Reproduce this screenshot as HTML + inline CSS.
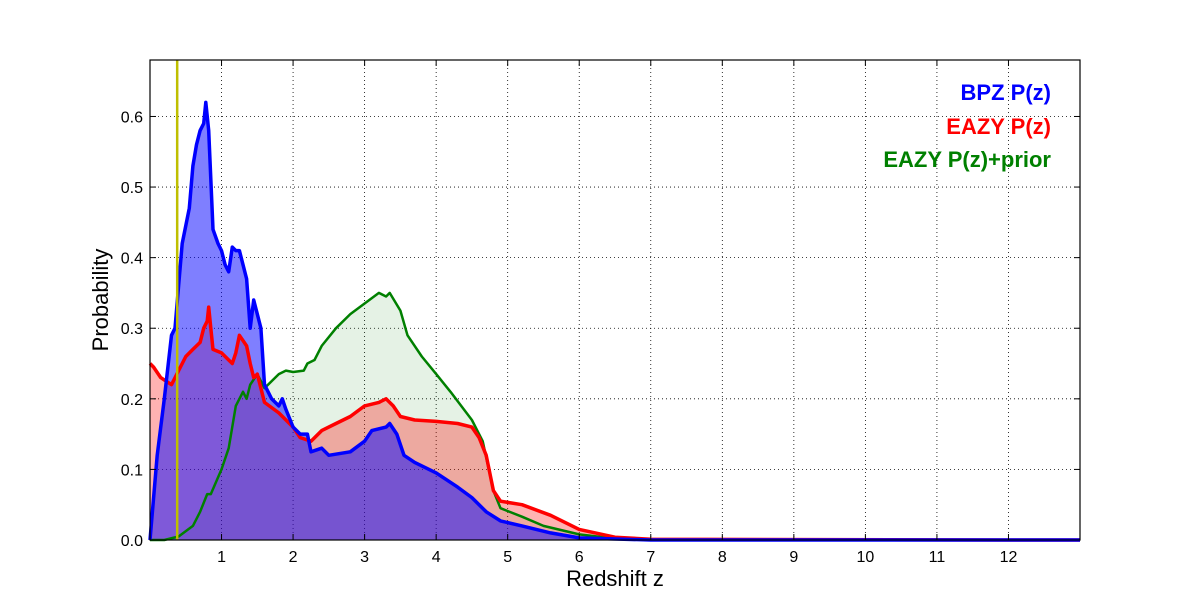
<!DOCTYPE html>
<html><head><meta charset="utf-8"><style>
body{margin:0;background:#fff;}
svg text{font-family:"Liberation Sans","DejaVu Sans",sans-serif;}
</style></head><body>
<svg id="chart" width="1200" height="600" xmlns="http://www.w3.org/2000/svg">
<rect width="1200" height="600" fill="#fff"/>
<g id="grid"></g>
<g id="fills"></g>
<g id="lines"></g>
<line id="zline" stroke="#bfbf00" stroke-width="2.5"/>
<rect x="150" y="60" width="930" height="480" fill="none" stroke="#000" stroke-width="1.2"/>
<g id="ticks"></g>
<text x="615" y="586" font-size="22" text-anchor="middle">Redshift z</text>
<text transform="translate(108,300) rotate(-90)" font-size="22" text-anchor="middle">Probability</text>
<text x="1051" y="100" font-size="22" font-weight="bold" fill="#0000ff" text-anchor="end">BPZ P(z)</text>
<text x="1051" y="134" font-size="22" font-weight="bold" fill="#ff0000" text-anchor="end">EAZY P(z)</text>
<text x="1051" y="167" font-size="22" font-weight="bold" fill="#008000" text-anchor="end">EAZY P(z)+prior</text>
</svg>
<script>
const xTicks=[1,2,3,4,5,6,7,8,9,10,11,12];
const yTicks=[0.0,0.1,0.2,0.3,0.4,0.5,0.6];
const specZ=0.38;
const bpzZ=[0,0.1,0.2,0.3,0.35,0.4,0.45,0.55,0.6,0.65,0.7,0.75,0.78,0.82,0.88,0.95,1.0,1.05,1.1,1.15,1.2,1.25,1.3,1.35,1.4,1.45,1.5,1.55,1.6,1.7,1.8,1.85,1.9,2.0,2.1,2.2,2.25,2.4,2.5,2.8,3.0,3.1,3.3,3.35,3.45,3.55,3.7,4.0,4.3,4.5,4.7,4.9,5.2,5.6,6,7,13];
const bpzP=[0,0.12,0.2,0.29,0.3,0.36,0.42,0.47,0.53,0.56,0.58,0.59,0.62,0.58,0.44,0.42,0.41,0.39,0.38,0.415,0.41,0.41,0.39,0.37,0.3,0.34,0.32,0.3,0.22,0.2,0.19,0.2,0.185,0.16,0.15,0.15,0.125,0.13,0.12,0.125,0.14,0.155,0.16,0.165,0.15,0.12,0.11,0.095,0.075,0.06,0.04,0.027,0.02,0.01,0.003,0,0];
const eazyZ=[0,0.05,0.15,0.3,0.4,0.5,0.6,0.7,0.75,0.8,0.82,0.85,0.88,1.0,1.1,1.15,1.2,1.25,1.35,1.4,1.45,1.5,1.6,1.8,2.0,2.1,2.25,2.4,2.6,2.8,3.0,3.2,3.3,3.4,3.5,3.7,4.0,4.3,4.5,4.6,4.7,4.8,4.9,5.2,5.6,6.0,6.5,7,12,13];
const eazyP=[0.25,0.245,0.23,0.22,0.24,0.26,0.27,0.28,0.3,0.31,0.33,0.3,0.27,0.265,0.255,0.25,0.265,0.29,0.275,0.25,0.23,0.235,0.195,0.18,0.16,0.145,0.14,0.155,0.165,0.175,0.19,0.195,0.2,0.19,0.175,0.17,0.168,0.165,0.16,0.145,0.12,0.07,0.055,0.05,0.035,0.015,0.004,0.001,0,0];
const priorZ=[0,0.2,0.4,0.6,0.7,0.8,0.85,1.0,1.1,1.2,1.3,1.35,1.4,1.5,1.6,1.8,1.9,2.0,2.15,2.2,2.3,2.4,2.6,2.8,3.0,3.2,3.3,3.35,3.5,3.6,3.8,4.0,4.2,4.5,4.65,4.8,4.9,5.2,5.5,6.0,6.5,7,13];
const priorP=[0,0,0.005,0.02,0.04,0.065,0.065,0.1,0.13,0.19,0.21,0.2,0.22,0.235,0.215,0.235,0.24,0.238,0.24,0.25,0.255,0.275,0.3,0.32,0.335,0.35,0.345,0.35,0.325,0.29,0.26,0.235,0.21,0.17,0.14,0.07,0.045,0.033,0.02,0.008,0.002,0,0];
const X0=150,X1=1080,Y0=540,Y1=60,XMAX=13,YMAX=0.68;
const sx=z=>X0+z/XMAX*(X1-X0), sy=p=>Y0-p/YMAX*(Y0-Y1);
const NS="http://www.w3.org/2000/svg";
function mk(tag,parent,attrs){const e=document.createElementNS(NS,tag);for(const k in attrs)e.setAttribute(k,attrs[k]);parent.appendChild(e);return e;}
const grid=document.getElementById('grid'),ticks=document.getElementById('ticks');
xTicks.forEach(t=>{
 const g=mk('line',grid,{x1:sx(t),x2:sx(t),y1:Y1,y2:Y0,stroke:'#000','stroke-width':0.8,'stroke-dasharray':'1,3'});
 
 
 const l=mk('text',ticks,{x:sx(t),y:Y0+22,'font-size':16,'text-anchor':'middle'});
 l.textContent=t;
 
 
 mk('line',ticks,{x1:sx(t),x2:sx(t),y1:Y0,y2:Y0-6,stroke:'#000'});
 mk('line',ticks,{x1:sx(t),x2:sx(t),y1:Y1,y2:Y1+6,stroke:'#000'});
});
yTicks.forEach(t=>{
 if(t>0){const g=mk('line',grid,{x1:X0,x2:X1,y1:sy(t),y2:sy(t),stroke:'#000','stroke-width':0.8,'stroke-dasharray':'1,3'});
 
 }
 const l=mk('text',ticks,{x:X0-7,y:sy(t)+6,'font-size':16,'text-anchor':'end'});
 l.textContent=t.toFixed(1);
 
 
 mk('line',ticks,{x1:X0,x2:X0+6,y1:sy(t),y2:sy(t),stroke:'#000'});
 mk('line',ticks,{x1:X1,x2:X1-6,y1:sy(t),y2:sy(t),stroke:'#000'});
});
function pts(zs,ps){return zs.map((z,i)=>sx(z).toFixed(1)+','+sy(ps[i]).toFixed(1)).join(' ');}
const fills=document.getElementById('fills'),lines=document.getElementById('lines');
const series=[[priorZ,priorP,'#008000',0.1,2.5,'eazy-prior'],[eazyZ,eazyP,'#ff0000',0.3,3.5,'eazy'],[bpzZ,bpzP,'#0000ff',0.5,3.5,'bpz']];
series.forEach(s=>{
 const f=mk('polygon',fills,{points:sx(s[0][0])+','+Y0+' '+pts(s[0],s[1])+' '+sx(s[0][s[0].length-1])+','+Y0,fill:s[2],'fill-opacity':s[3]});
 
 
});
series.forEach(s=>{
 const l=mk('polyline',lines,{points:pts(s[0],s[1]),fill:'none',stroke:s[2],'stroke-width':s[4],'stroke-linejoin':'round'});
 
 
});
const zl=document.getElementById('zline');
zl.setAttribute('x1',sx(specZ));zl.setAttribute('x2',sx(specZ));zl.setAttribute('y1',Y1);zl.setAttribute('y2',Y0);
</script>
</body></html>
